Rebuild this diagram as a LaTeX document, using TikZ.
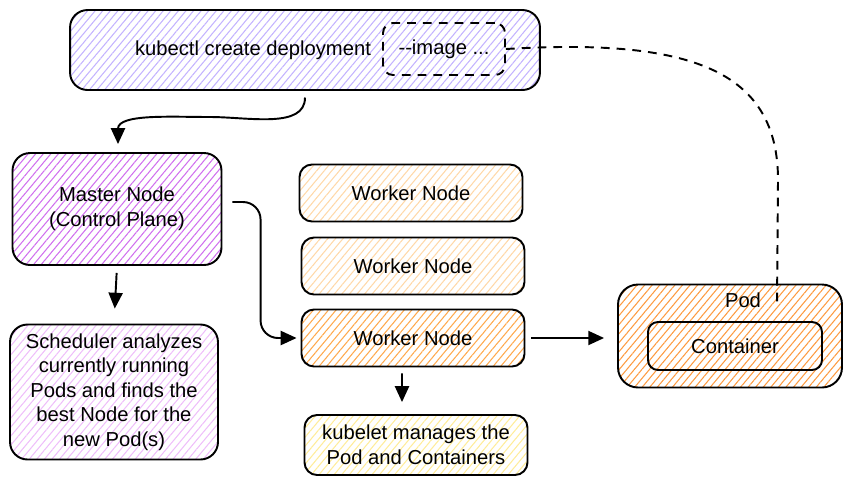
\documentclass[tikz,border=0pt]{standalone}
\usepackage{fontspec}
\setmainfont{Liberation Sans}
\usetikzlibrary{arrows.meta,patterns.meta}
\definecolor{cmdcol}{HTML}{C3B3FF}
\definecolor{mastercol}{HTML}{D070EE}
\definecolor{schedcol}{HTML}{EEBEFA}
\definecolor{workercol}{HTML}{FFD8A8}
\definecolor{activecol}{HTML}{FFA94D}
\definecolor{podcol}{HTML}{FD9A40}
\definecolor{kubeletcol}{HTML}{FFEC99}
\begin{document}
\begin{tikzpicture}[x=0.02cm, y=-0.02cm,
    font=\fontsize{11.5}{14}\selectfont,
    box/.style={draw=black, line width=1.1pt, rounded corners=0.25cm,
      align=center, inner sep=0pt},
    hatch/.style={pattern={Lines[angle=50,distance=3.3pt,line width=0.6pt]},
      pattern color=#1},
    arr/.style={line width=1.1pt, -{Triangle[length=9pt,width=8pt]}},
    link/.style={line width=1.1pt, dash pattern=on 5pt off 4pt}]
  \useasboundingbox (0,0) rectangle (852,485);

  % command
  \node[box, hatch=cmdcol, rounded corners=0.35cm,
    minimum width=9.4cm, minimum height=1.6cm] (cmd) at (305,50) {};
  \node (cmdtext) at (253,50) {kubectl create deployment};
  \node[box, link, rounded corners=0.2cm,
    minimum width=2.44cm, minimum height=1.04cm] (img) at (444,49) {{-}{-}image ...};

  % control plane
  \node[box, hatch=mastercol, rounded corners=0.35cm,
    minimum width=4.18cm, minimum height=2.24cm] (master) at (117,209)
    {Master Node\\(Control Plane)};
  \node[box, hatch=schedcol, rounded corners=0.35cm,
    minimum width=4.16cm, minimum height=2.7cm] (sched) at (114,392)
    {Scheduler analyzes\\currently running\\Pods and finds the\\best Node for the\\new Pod(s)};

  % workers
  \node[box, hatch=workercol, minimum width=4.46cm, minimum height=1.14cm] (w1) at (411,193) {Worker Node};
  \node[box, hatch=workercol, minimum width=4.46cm, minimum height=1.14cm] (w2) at (413,266) {Worker Node};
  \node[box, hatch=activecol, minimum width=4.46cm, minimum height=1.14cm] (w3) at (413,338) {Worker Node};
  \node[box, hatch=kubeletcol, minimum width=4.46cm, minimum height=1.2cm] (kubelet) at (416,445)
    {kubelet manages the\\Pod and Containers};

  % pod
  \node[box, hatch=podcol, rounded corners=0.4cm,
    minimum width=4.48cm, minimum height=2.06cm] (pod) at (730,336) {};
  \node (podtext) at (743,300) {Pod};
  \node[box, rounded corners=0.2cm, minimum width=3.48cm, minimum height=0.96cm] (cont) at (735,346) {Container};
  \coordinate (podlink) at (777,305);

  % connectors
  \draw[arr, shorten <=0.14cm, shorten >=0.16cm] (cmd.south) to[out=-90,in=0] (210,117)
    to[out=180,in=90] (master.north -| 118,0);
  \draw[arr, shorten <=0.14cm, shorten >=0.3cm] (master.south) -- (sched.north);
  \draw[arr, rounded corners=0.35cm, shorten <=0.2cm, shorten >=0.08cm]
    ([yshift=0.14cm]master.east) -| ([xshift=-0.8cm]w3.west) -- (w3.west);
  \draw[arr, shorten <=0.12cm, shorten >=0.24cm] ([xshift=-0.22cm]w3.south) -- ([xshift=-0.28cm]kubelet.north);
  \draw[arr, shorten <=0.12cm, shorten >=0.26cm] (w3.east) -- (w3.east -| pod.west);
  \draw[link] (img.east) .. controls (690,38) and (778,70) .. (778,180) -- (podlink);
\end{tikzpicture}
\end{document}
